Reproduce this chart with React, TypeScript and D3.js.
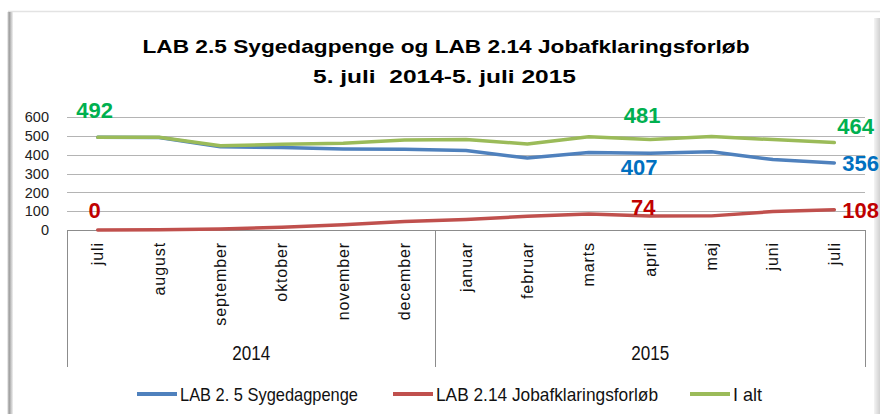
import React from "react";
import * as d3 from "d3";

const months = ["juli", "august", "september", "oktober", "november", "december", "januar", "februar", "marts", "april", "maj", "juni", "juli"];
const years = ["2014", "2015"];
const yearStart = [0, 6];
const yearEnd = [6, 13];
const sygedagpenge = [492, 491, 442, 438, 430, 429, 422, 382, 412, 407, 416, 374, 356];
const jobafklaring = [0, 1, 5, 15, 28, 45, 56, 73, 85, 74, 75, 98, 108];
const iAlt = [492, 492, 447, 455, 460, 478, 480, 457, 495, 481, 496, 480, 464];
const yTicks = [0, 100, 200, 300, 400, 500, 600];
const seriesNames = ["LAB 2. 5 Sygedagpenge", "LAB 2.14 Jobafklaringsforløb", "I alt"];

const W = 880;
const H = 414;
const NARROW = "'Liberation Sans Narrow', 'Liberation Sans', Arial, sans-serif";
const SANS = "'Liberation Sans', Arial, sans-serif";

const series = [
  { name: seriesNames[0], values: sygedagpenge, color: "#4F81BD", label: "#0070C0", legendX: 137, legendLen: 178 },
  { name: seriesNames[1], values: jobafklaring, color: "#C0504D", label: "#C00000", legendX: 393, legendLen: 222 },
  { name: seriesNames[2], values: iAlt, color: "#9BBB59", label: "#00B050", legendX: 690, legendLen: 29 },
];

// data-label placement (series index, point index, offsets, anchor)
const labelSpecs = [
  { s: 2, i: 0, dx: -3, dy: -27, anchor: "middle" },
  { s: 2, i: 9, dx: -8, dy: -24, anchor: "middle" },
  { s: 2, i: 12, dx: 3, dy: -17, anchor: "start" },
  { s: 0, i: 9, dx: -11, dy: 14, anchor: "middle" },
  { s: 0, i: 12, dx: 8, dy: 0, anchor: "start" },
  { s: 1, i: 0, dx: -3, dy: -20, anchor: "middle" },
  { s: 1, i: 9, dx: -7, dy: -9, anchor: "middle" },
  { s: 1, i: 12, dx: 8, dy: 0, anchor: "start" },
];

export default function App() {
  const x = d3.scaleBand<number>().domain(d3.range(months.length)).range([67, 865]).padding(0);
  const cx = (i: number) => (x(i) as number) + x.bandwidth() / 2;
  const y = d3.scaleLinear().domain([0, 600]).range([230, 117]);
  const line = d3
    .line<number>()
    .x((_, i) => cx(i))
    .y((d) => y(d));

  return (
    <svg
      width={W}
      height={H}
      viewBox={`0 0 ${W} ${H}`}
      style={{ position: "absolute", left: 0, top: 0, background: "#fff" }}
    >
      <defs>
        <linearGradient id="lshadow" x1="0" x2="1" y1="0" y2="0">
          <stop offset="0" stopColor="#ffffff" />
          <stop offset="0.35" stopColor="#9a9a9a" />
          <stop offset="1" stopColor="#f2f2f2" />
        </linearGradient>
        <linearGradient id="rshadow" x1="0" x2="1" y1="0" y2="0">
          <stop offset="0" stopColor="#f4f4f4" />
          <stop offset="1" stopColor="#d0d0d0" />
        </linearGradient>
      </defs>
      {/* frame */}
      <rect x={0} y={0} width={W} height={H} fill="#fff" />
      <line x1={8} x2={W} y1={11.5} y2={11.5} stroke="#e3e3e3" strokeWidth={1.5} />
      <rect x={7} y={12} width={6} height={H - 12} fill="url(#lshadow)" />
      <rect x={874} y={18} width={6} height={H - 18} fill="url(#rshadow)" />

      {/* title */}
      <text x={446} y={53} textAnchor="middle" fontFamily={NARROW} fontWeight="bold" fontSize={19} textLength={607} lengthAdjust="spacingAndGlyphs" fill="#000">
        LAB 2.5 Sygedagpenge og LAB 2.14 Jobafklaringsforløb
      </text>
      <text x={444.5} y={82.5} textAnchor="middle" fontFamily={NARROW} fontWeight="bold" fontSize={19} textLength={263} lengthAdjust="spacingAndGlyphs" fill="#000" style={{ whiteSpace: "pre" }}>
        {"5. juli  2014-5. juli 2015"}
      </text>

      {/* gridlines */}
      {yTicks.map((t) => (
        <line key={t} x1={67} x2={865} y1={Math.round(y(t)) + 0.5} y2={Math.round(y(t)) + 0.5} stroke={t === 0 ? "#8c8c8c" : "#b4b4b4"} strokeWidth={1} />
      ))}
      {yTicks.map((t) => (
        <text key={"l" + t} x={49} y={y(t)} dy="0.36em" textAnchor="end" fontFamily={SANS} fontSize={14.5} fill="#222">
          {t}
        </text>
      ))}

      {/* category axis box separators */}
      {[0, 6, 13].map((b) => {
        const xb = b < months.length ? (x(b) as number) : 865;
        return <line key={"sep" + b} x1={Math.round(xb) + 0.5} x2={Math.round(xb) + 0.5} y1={230} y2={367} stroke="#8c8c8c" strokeWidth={1} />;
      })}

      {/* month labels */}
      {months.map((m, i) => (
        <text
          key={"m" + i}
          transform={`translate(${cx(i) + 5.5},242) rotate(-90)`}
          textAnchor="end"
          fontFamily={SANS}
          fontSize={16}
          letterSpacing={0.9}
          fill="#111"
        >
          {m}
        </text>
      ))}

      {/* year labels */}
      {years.map((yr, k) => {
        const x0 = x(yearStart[k]) as number;
        const x1 = yearEnd[k] < months.length ? (x(yearEnd[k]) as number) : 865;
        return (
          <text key={yr} x={(x0 + x1) / 2} y={360} textAnchor="middle" fontFamily={NARROW} fontSize={20} textLength={38} lengthAdjust="spacingAndGlyphs" fill="#111">
            {yr}
          </text>
        );
      })}

      {/* series lines */}
      {series.map((s) => (
        <path key={s.name} d={line(s.values) || ""} fill="none" stroke={s.color} strokeWidth={3.5} strokeLinejoin="round" strokeLinecap="round" />
      ))}

      {/* data labels */}
      {labelSpecs.map((l, k) => {
        const s = series[l.s];
        const v = s.values[l.i];
        return (
          <text key={"dl" + k} x={cx(l.i) + l.dx} y={y(v) + l.dy} dy="0.36em" textAnchor={l.anchor} fontFamily={SANS} fontWeight="bold" fontSize={22} fill={s.label}>
            {v}
          </text>
        );
      })}

      {/* legend */}
      {series.map((s) => (
        <g key={"lg" + s.name}>
          <line x1={s.legendX} x2={s.legendX + 40} y1={394} y2={394} stroke={s.color} strokeWidth={4} />
          <text x={s.legendX + 43} y={401} fontFamily={NARROW} fontSize={18.5} textLength={s.legendLen} lengthAdjust="spacingAndGlyphs" fill="#111">
            {s.name}
          </text>
        </g>
      ))}
    </svg>
  );
}
